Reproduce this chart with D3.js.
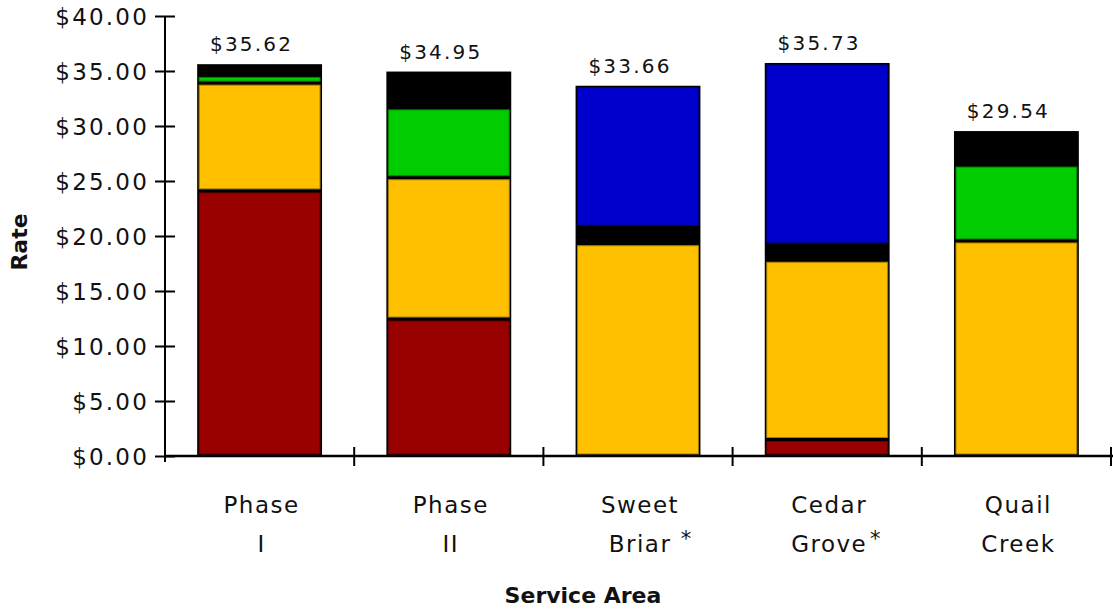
<!DOCTYPE html>
<html>
<head>
<meta charset="utf-8">
<script src="https://cdn.jsdelivr.net/npm/d3@7"></script>
<style>
  body { margin: 0; background: #fff; }
  text { font-family: "DejaVu Sans", Verdana, sans-serif; fill: #111; }
</style>
</head>
<body>
<div id="chart"></div>
<script>
// ---------------- data
const areas = ["Phase I", "Phase II", "Sweet Briar", "Cedar Grove", "Quail Creek"]
const areaLines = [["Phase", "I"], ["Phase", "II"], ["Sweet", "Briar"], ["Cedar", "Grove"], ["Quail", "Creek"]]
const starred = [false, false, true, true, false]
const totals = [35.62, 34.95, 33.66, 35.73, 29.54]

// stacked segments, bottom to top
const seriesNames = ["red", "yellow", "green", "black", "blue"]
const redVals    = [24.10, 12.45, 0,     1.50,  0]
const yellowVals = [9.80,  12.85, 19.30, 16.30, 19.55]
const greenVals  = [0.70,  6.35,  0,     0,     6.90]
const blackVals  = [1.02,  3.30,  1.50,  1.40,  3.09]
const blueVals   = [0,     0,     12.86, 16.53, 0]

const yTicks = [0, 5, 10, 15, 20, 25, 30, 35, 40]

const colors = {red: "#990000", yellow: "#FFC000", green: "#00CC00", black: "#000000", blue: "#0000CC"}

// ---------------- dimensions
const dims = {width: 1113, height: 612, left: 165, right: 1111, top: 16, bottom: 456}

const svg = d3.select("#chart").append("svg")
  .attr("width", dims.width)
  .attr("height", dims.height)

const table = areas.map((a, i) => ({
  area: a,
  red: redVals[i], yellow: yellowVals[i], green: greenVals[i],
  black: blackVals[i], blue: blueVals[i]
}))

const stacked = d3.stack().keys(seriesNames)(table)

// ---------------- scales
const xScale = d3.scaleBand()
  .domain(areas)
  .range([dims.left, dims.right])
  .paddingInner(0.34)
  .paddingOuter(0.17)

const yScale = d3.scaleLinear()
  .domain([0, 40])
  .range([dims.bottom, dims.top])

// ---------------- bars: black outline, then coloured segments inset
const bars = svg.append("g")

bars.selectAll("rect.outline")
  .data(areas)
  .join("rect")
  .classed("outline", true)
  .attr("x", d => xScale(d))
  .attr("y", (d, i) => yScale(totals[i]))
  .attr("width", xScale.bandwidth())
  .attr("height", (d, i) => yScale(0) - yScale(totals[i]))
  .attr("fill", "#000")

const inset = 2
stacked.forEach(layer => {
  bars.append("g")
    .selectAll("rect")
    .data(layer.filter(d => d[1] - d[0] > 0))
    .join("rect")
    .attr("x", d => xScale(d.data.area) + inset)
    .attr("y", d => yScale(d[1]) + inset)
    .attr("width", xScale.bandwidth() - inset * 2)
    .attr("height", d => Math.max(0, yScale(d[0]) - yScale(d[1]) - inset * 2))
    .attr("fill", colors[layer.key])
    .attr("stroke", layer.key === "black" ? "none" : d3.color(colors[layer.key]).darker(1.2))
    .attr("stroke-width", 1)
})

// ---------------- value labels
svg.append("g")
  .selectAll("text")
  .data(areas)
  .join("text")
  .attr("x", d => xScale(d) + xScale.bandwidth() / 2 - 8)
  .attr("y", (d, i) => yScale(totals[i]) - 13)
  .attr("text-anchor", "middle")
  .style("font-size", "20px")
  .style("letter-spacing", "2.2px")
  .text((d, i) => "$" + totals[i].toFixed(2))

// ---------------- y axis
const yAxis = d3.axisLeft(yScale)
  .tickValues(yTicks)
  .tickSize(10)
  .tickPadding(6)
  .tickFormat(d => "$" + d3.format(".2f")(d))

const gy = svg.append("g")
  .attr("transform", `translate(${dims.left},0)`)
  .call(yAxis)
gy.select(".domain").remove()
gy.selectAll(".tick line").attr("x1", 10).attr("stroke", "#000").attr("stroke-width", 2)
gy.selectAll(".tick text")
  .style("font-size", "23px")
  .style("letter-spacing", "2.2px")
  .style("font-family", "DejaVu Sans, sans-serif")
  .attr("fill", "#111")
  .attr("dy", "0.36em")
gy.append("line")
  .attr("x1", 0).attr("x2", 0)
  .attr("y1", dims.top).attr("y2", dims.bottom + 6)
  .attr("stroke", "#000").attr("stroke-width", 2)

// ---------------- x axis
const gx = svg.append("g")
gx.append("line")
  .attr("x1", dims.left).attr("x2", dims.right + 2)
  .attr("y1", dims.bottom).attr("y2", dims.bottom)
  .attr("stroke", "#000").attr("stroke-width", 2.5)

const step = xScale.step()
gx.selectAll("line.tick")
  .data(areas)
  .join("line")
  .classed("tick", true)
  .attr("x1", d => xScale(d) - xScale.paddingOuter() * step + step)
  .attr("x2", d => xScale(d) - xScale.paddingOuter() * step + step)
  .attr("y1", dims.bottom - 9)
  .attr("y2", dims.bottom + 10)
  .attr("stroke", "#000")
  .attr("stroke-width", 2)

const catLabels = gx.selectAll("text.cat")
  .data(areas)
  .join("text")
  .classed("cat", true)
  .attr("text-anchor", "middle")
  .style("font-size", "23px")
  .style("letter-spacing", "1.5px")

catLabels.selectAll("tspan")
  .data((d, i) => areaLines[i].map(t => ({t, x: xScale(d) + xScale.bandwidth() / 2 + 2})))
  .join("tspan")
  .attr("x", d => d.x)
  .attr("y", (d, j) => 513 + j * 39)
  .text(d => d.t)

gx.selectAll("text.star")
  .data(areas.filter((d, i) => starred[i]))
  .join("text")
  .classed("star", true)
  .attr("x", d => xScale(d) + xScale.bandwidth() / 2 + 48)
  .attr("y", 546)
  .attr("text-anchor", "middle")
  .style("font-size", "21px")
  .text("*")

// ---------------- axis titles
svg.append("text")
  .attr("transform", `translate(27,242) rotate(-90)`)
  .attr("text-anchor", "middle")
  .style("font-size", "22px")
  .style("font-weight", "bold")
  .text("Rate")

svg.append("text")
  .attr("x", 583)
  .attr("y", 603)
  .attr("text-anchor", "middle")
  .style("font-size", "22px")
  .style("font-weight", "bold")
  .text("Service Area")
</script>
</body>
</html>
